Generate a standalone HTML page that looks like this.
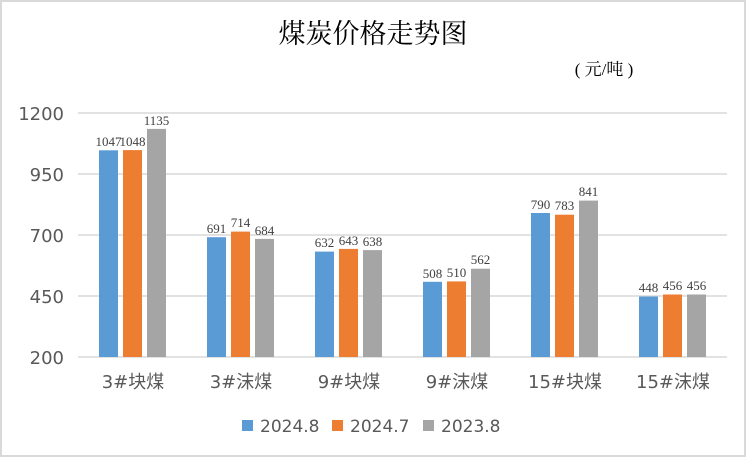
<!DOCTYPE html>
<html><head><meta charset="utf-8"><style>
body{margin:0;background:#fff;}
</style></head><body>
<svg width="749" height="458" xmlns="http://www.w3.org/2000/svg" style="display:block">
<rect x="1" y="1" width="744" height="455" fill="#fff" stroke="#d9d9d9" stroke-width="2"/>
<text x="373" y="43" text-anchor="middle" font-family="'Liberation Serif','Noto Serif CJK SC',serif" font-size="27" fill="#000">煤炭价格走势图</text>
<text x="604" y="75" text-anchor="middle" font-family="'Liberation Serif','Noto Serif CJK SC',serif" font-size="17" fill="#000">( 元/吨 )</text>
<g stroke="#d9d9d9" stroke-width="1.5">
<line x1="78" x2="727" y1="113" y2="113"/>
<line x1="78" x2="727" y1="174" y2="174"/>
<line x1="78" x2="727" y1="235" y2="235"/>
<line x1="78" x2="727" y1="296" y2="296"/>
<line x1="78" x2="727" y1="357" y2="357"/>
</g>
<g font-family="'DejaVu Sans',sans-serif" font-size="18" fill="#595959" text-anchor="end">
<text x="64" y="120">1200</text><text x="64" y="181">950</text><text x="64" y="242">700</text><text x="64" y="303">450</text><text x="64" y="364">200</text>
</g>
<g>
<rect x="99" y="150.3" width="19" height="206.7" fill="#5b9bd5"/>
<rect x="123" y="150.1" width="19" height="206.9" fill="#ed7d31"/>
<rect x="147" y="128.9" width="19" height="228.1" fill="#a5a5a5"/>
<rect x="207" y="237.2" width="19" height="119.8" fill="#5b9bd5"/>
<rect x="231" y="231.6" width="19" height="125.4" fill="#ed7d31"/>
<rect x="255" y="238.9" width="19" height="118.1" fill="#a5a5a5"/>
<rect x="315" y="251.6" width="19" height="105.4" fill="#5b9bd5"/>
<rect x="339" y="248.9" width="19" height="108.1" fill="#ed7d31"/>
<rect x="363" y="250.1" width="19" height="106.9" fill="#a5a5a5"/>
<rect x="423" y="281.8" width="19" height="75.2" fill="#5b9bd5"/>
<rect x="447" y="281.4" width="19" height="75.6" fill="#ed7d31"/>
<rect x="471" y="268.7" width="19" height="88.3" fill="#a5a5a5"/>
<rect x="531" y="213.0" width="19" height="144" fill="#5b9bd5"/>
<rect x="555" y="214.7" width="19" height="142.3" fill="#ed7d31"/>
<rect x="579" y="200.6" width="19" height="156.4" fill="#a5a5a5"/>
<rect x="639" y="296.5" width="19" height="60.5" fill="#5b9bd5"/>
<rect x="663" y="294.5" width="19" height="62.5" fill="#ed7d31"/>
<rect x="687" y="294.5" width="19" height="62.5" fill="#a5a5a5"/>
</g>
<g font-family="'Liberation Serif',serif" font-size="13" fill="#404040" text-anchor="middle">
<text x="108.5" y="146">1047</text><text x="132.5" y="146">1048</text><text x="156.5" y="125">1135</text>
<text x="216.5" y="233">691</text><text x="240.5" y="227">714</text><text x="264.5" y="235">684</text>
<text x="324.5" y="247">632</text><text x="348.5" y="245">643</text><text x="372.5" y="246">638</text>
<text x="432.5" y="278">508</text><text x="456.5" y="277">510</text><text x="480.5" y="264">562</text>
<text x="540.5" y="209">790</text><text x="564.5" y="210">783</text><text x="588.5" y="196">841</text>
<text x="648.5" y="292">448</text><text x="672.5" y="290">456</text><text x="696.5" y="290">456</text>
</g>
<g font-family="'DejaVu Sans','Noto Sans CJK SC',sans-serif" font-size="18" fill="#595959" text-anchor="middle">
<text x="133" y="388">3#块煤</text><text x="241" y="388">3#沫煤</text><text x="349" y="388">9#块煤</text><text x="457" y="388">9#沫煤</text><text x="565" y="388">15#块煤</text><text x="673" y="388">15#沫煤</text>
</g>
<g font-family="'DejaVu Sans',sans-serif" font-size="17" fill="#595959">
<rect x="242" y="420" width="11" height="11" fill="#5b9bd5"/><text x="260" y="432">2024.8</text>
<rect x="332" y="420" width="11" height="11" fill="#ed7d31"/><text x="350" y="432">2024.7</text>
<rect x="423" y="420" width="11" height="11" fill="#a5a5a5"/><text x="441" y="432">2023.8</text>
</g>
</svg>
</body></html>
